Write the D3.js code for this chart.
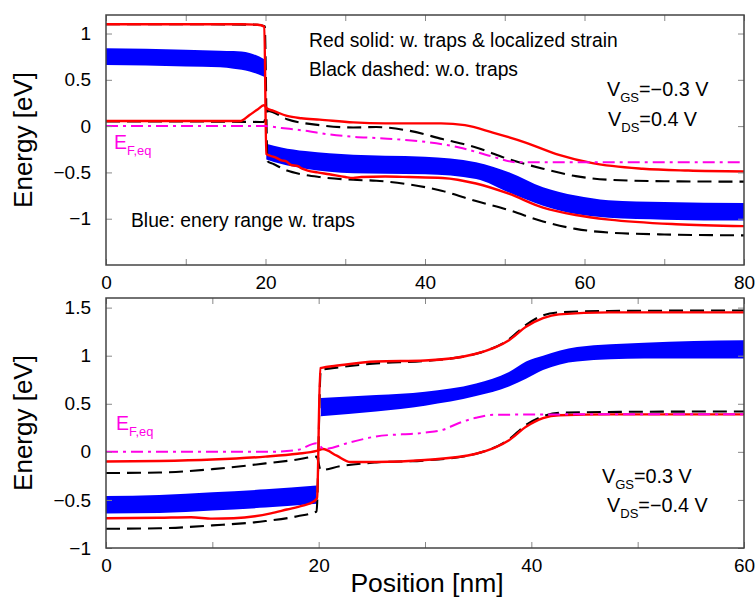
<!DOCTYPE html>
<html><head><meta charset="utf-8">
<script src="https://cdn.jsdelivr.net/npm/d3@7"></script>
<style>
body{margin:0;background:#fff}
text{font-family:"Liberation Sans",Arial,Helvetica,sans-serif;fill:#000}
</style>
</head><body>
<svg id="c" width="756" height="600"></svg>
<script>
// ---------------- DATA ----------------
// Top panel: VGS = -0.3 V, VDS = 0.4 V   (x in nm, energy in eV)
const topXTicks = [0,10,20,30,40,50,60,70,80];
const topXLabels = [0,20,40,60,80];
const topYTicks = [-1,-0.5,0,0.5,1];
// red solid (traps & localized strain)
const topRed1 = [[0,1.10],[10,1.10],[17,1.10],[19,1.095],[19.85,1.075],[20.1,-0.30],[20.6,-0.32],[21.3,-0.34],[22,-0.37],[22.6,-0.38],[23.2,-0.42],[24,-0.43],[24.6,-0.46],[25.3,-0.48],[26.5,-0.50],[28,-0.52],[30,-0.55],[31,-0.56],[32,-0.55],[35,-0.545],[38,-0.55],[42.2,-0.56],[46.4,-0.62],[50.5,-0.73],[54.8,-0.88],[58.9,-0.96],[63.1,-1.01],[71.5,-1.06],[80,-1.08]];
const topRed2 = [[0,0.055],[10,0.055],[16.8,0.055],[18,0.12],[19,0.18],[19.8,0.225],[20.2,0.19],[21,0.165],[22.7,0.11],[24.5,0.085],[26.8,0.07],[31,0.04],[35,0.03],[42,0.03],[45,0.01],[48.5,-0.07],[52.7,-0.18],[56.8,-0.31],[61,-0.40],[67.3,-0.46],[73,-0.48],[80,-0.49]];
// black dashed (without traps)
const topBlack1 = [[0,1.10],[10,1.10],[19,1.095],[19.9,1.08],[20.25,-0.38],[21,-0.41],[22.7,-0.48],[24.5,-0.52],[26.8,-0.55],[31,-0.58],[33.9,-0.59],[38,-0.63],[42.2,-0.70],[46.4,-0.81],[50.6,-0.91],[54.8,-1.03],[58.9,-1.11],[63.1,-1.15],[70,-1.17],[80,-1.18]];
const topBlack2 = [[0,0.05],[10,0.05],[19.8,0.045],[20.25,0.165],[22.7,0.075],[26.8,0.01],[31,-0.015],[33.9,-0.01],[38,-0.05],[42.2,-0.14],[46.4,-0.23],[50.6,-0.36],[54.8,-0.46],[58.9,-0.54],[63.1,-0.58],[70,-0.595],[80,-0.60]];
// magenta dash-dot (equilibrium Fermi level)
const topEF = [[0,0],[20,0],[22,-0.02],[25,-0.05],[28,-0.09],[31,-0.115],[34,-0.13],[40,-0.17],[44.3,-0.23],[48.5,-0.33],[51.5,-0.39],[80,-0.39]];
// blue band (energy range with traps): [x, low, high]
const topBandLeft = [[0,0.66,0.84],[5,0.655,0.835],[10,0.645,0.825],[14.3,0.635,0.815],[16,0.62,0.81],[18,0.59,0.79],[19.9,0.53,0.72]];
const topBandRight = [[20.1,-0.36,-0.19],[22,-0.41,-0.23],[25,-0.46,-0.27],[31,-0.51,-0.31],[35,-0.515,-0.32],[40,-0.52,-0.33],[46.4,-0.57,-0.39],[50.6,-0.72,-0.50],[54.8,-0.86,-0.66],[58.9,-0.95,-0.75],[63,-0.99,-0.80],[70,-1.01,-0.82],[80,-1.02,-0.83]];

// Bottom panel: VGS = 0.3 V, VDS = -0.4 V
const botXTicks = [0,10,20,30,40,50,60];
const botXLabels = [0,20,40,60];
const botYTicks = [-1,-0.5,0,0.5,1,1.5];
const botRed1 = [[0,-0.69],[5,-0.685],[8,-0.68],[10,-0.695],[12,-0.69],[14,-0.67],[15.5,-0.64],[17,-0.60],[18.5,-0.56],[19.5,-0.52],[19.85,-0.48],[20.15,0.87],[22,0.90],[25.4,0.94],[30,0.95],[34.8,1.02],[37.9,1.16],[39.5,1.30],[41.1,1.39],[42.6,1.43],[47.3,1.45],[60,1.45]];
const botRed2 = [[0,-0.10],[5,-0.095],[10,-0.08],[15,-0.05],[18,-0.02],[19.8,0.01],[20.4,0.03],[21.7,-0.04],[23,-0.105],[25.4,-0.105],[30,-0.085],[34.8,-0.02],[37.9,0.12],[39.5,0.26],[41.1,0.35],[42.6,0.38],[47.3,0.39],[60,0.39]];
const botBlack1 = [[0,-0.80],[5,-0.795],[10,-0.765],[15,-0.72],[18,-0.67],[19.8,-0.62],[20.2,0.85],[22,0.88],[25.4,0.92],[30,0.945],[34.8,1.02],[37.9,1.17],[39.5,1.32],[41.1,1.42],[42.6,1.45],[47.3,1.465],[60,1.47]];
const botBlack2 = [[0,-0.22],[5,-0.215],[10,-0.18],[15,-0.12],[18,-0.08],[19.8,-0.05],[20.2,-0.19],[22,-0.15],[25.4,-0.11],[30,-0.09],[34.8,-0.02],[37.9,0.13],[39.5,0.28],[41.1,0.37],[42.6,0.405],[47.3,0.415],[60,0.42]];
const botEF = [[0,0],[15,0],[18,0.02],[19.8,0.09],[20.5,0.03],[23,0.10],[25.4,0.16],[30,0.20],[31.7,0.23],[33.2,0.30],[34.8,0.355],[36.4,0.385],[45,0.39],[60,0.39]];
const botBandLeft = [[0,-0.64,-0.46],[5,-0.635,-0.45],[10,-0.61,-0.42],[15,-0.58,-0.39],[19.8,-0.54,-0.35]];
const botBandRight = [[20.2,0.37,0.56],[25.4,0.42,0.59],[30,0.48,0.625],[34.8,0.58,0.71],[37.9,0.68,0.83],[39.5,0.76,0.94],[41.1,0.85,1.00],[44.3,0.94,1.09],[50.6,0.97,1.135],[60,0.97,1.16]];

// ---------------- DRAW ----------------
const svg = d3.select("#c");
const fmt = d3.format("~g");
const BLUE = "#0000ff", RED = "#ff0000", MAG = "#ff00e6";

function panel(cfg){
  const x = d3.scaleLinear().domain(cfg.xDom).range([106,744]);
  const y = d3.scaleLinear().domain(cfg.yDom).range([cfg.y1, cfg.y0]);
  const g = svg.append("g");
  const cid = "clip"+cfg.id;
  g.append("clipPath").attr("id",cid).append("rect")
    .attr("x",106).attr("y",cfg.y0).attr("width",638).attr("height",cfg.y1-cfg.y0);
  const pg = g.append("g").attr("clip-path",`url(#${cid})`);

  const area = d3.area().x(d=>x(d[0])).y0(d=>y(d[1])).y1(d=>y(d[2])).curve(d3.curveMonotoneX);
  cfg.bands.forEach(b=>pg.append("path").attr("d",area(b)).attr("fill",BLUE));

  const line = d3.line().x(d=>x(d[0])).y(d=>y(d[1])).curve(d3.curveMonotoneX);
  cfg.black.forEach(s=>pg.append("path").attr("d",line(s)).attr("fill","none")
    .attr("stroke","#000").attr("stroke-width",2.1).attr("stroke-dasharray","14,7"));
  cfg.red.forEach(s=>pg.append("path").attr("d",line(s)).attr("fill","none")
    .attr("stroke",RED).attr("stroke-width",2.4));
  pg.append("path").attr("d",line(cfg.ef)).attr("fill","none")
    .attr("stroke",MAG).attr("stroke-width",2).attr("stroke-dasharray","12,5,3,5");

  const styleAxis = sel=>{
    sel.select(".domain").remove();
    sel.selectAll(".tick line").attr("stroke","#888").attr("stroke-width",1);
    sel.selectAll(".tick text").attr("font-size",19).attr("fill","#000")
      .style("font-family",'"Liberation Sans",Arial,sans-serif');
  };
  g.append("g").attr("transform",`translate(0,${cfg.y1})`)
    .call(d3.axisBottom(x).tickValues(cfg.xTicks).tickSize(-6).tickPadding(11)
      .tickFormat(d=>cfg.xLabels.includes(d)?fmt(d):""))
    .call(styleAxis);
  g.append("g").attr("transform",`translate(0,${cfg.y0})`)
    .call(d3.axisTop(x).tickValues(cfg.xTicks).tickSize(-6).tickFormat(""))
    .call(styleAxis);
  g.append("g").attr("transform",`translate(106,0)`)
    .call(d3.axisLeft(y).tickValues(cfg.yTicks).tickSize(-6).tickPadding(15).tickFormat(fmt))
    .call(styleAxis);
  g.append("g").attr("transform",`translate(744,0)`)
    .call(d3.axisRight(y).tickValues(cfg.yTicks).tickSize(-6).tickFormat(""))
    .call(styleAxis);

  g.append("rect").attr("x",106).attr("y",cfg.y0).attr("width",638).attr("height",cfg.y1-cfg.y0)
    .attr("fill","none").attr("stroke","#444").attr("stroke-width",1.5);

  g.append("text").attr("transform",`translate(32,${(cfg.y0+cfg.y1)/2}) rotate(-90)`)
    .attr("text-anchor","middle").attr("font-size",26).text("Energy [eV]");
  return {g,x,y};
}

const topPanel = panel({id:"t", xDom:[0,80], yDom:[-1.5,1.2], y0:15, y1:265,
  xTicks:topXTicks, xLabels:topXLabels, yTicks:topYTicks,
  bands:[topBandLeft, topBandRight], black:[topBlack1, topBlack2], red:[topRed1, topRed2], ef:topEF});
const botPanel = panel({id:"b", xDom:[0,60], yDom:[-1,1.6], y0:298, y1:548,
  xTicks:botXTicks, xLabels:botXLabels, yTicks:botYTicks,
  bands:[botBandLeft, botBandRight], black:[botBlack1, botBlack2], red:[botRed1, botRed2], ef:botEF});

function txt(x,y,s,size){ return svg.append("text").attr("x",x).attr("y",y).attr("font-size",size||19.3).text(s); }
function sub(x,y,main,subs,rest,size,col){
  const t = svg.append("text").attr("x",x).attr("y",y).attr("font-size",size);
  if(col) t.style("fill",col);
  t.append("tspan").text(main);
  t.append("tspan").attr("dy",6).attr("font-size",size*0.66).text(subs);
  if(rest) t.append("tspan").attr("dy",-6).text(rest);
  return t;
}
txt(309,47,"Red solid: w. traps & localized strain");
txt(309,76,"Black dashed: w.o. traps");
txt(131,227,"Blue: enery range w. traps");
sub(607,96,"V","GS","=\u22120.3 V",19.8);
sub(608,126,"V","DS","=0.4 V",19.8);
sub(114,149,"E","F,eq","",19.5,MAG);

sub(602,483,"V","GS","=0.3 V",19.8);
sub(607,512,"V","DS","=\u22120.4 V",19.8);
sub(116,430,"E","F,eq","",19.5,MAG);

svg.append("text").attr("x",427).attr("y",592).attr("text-anchor","middle")
  .attr("font-size",26.5).text("Position [nm]");
</script>
</body></html>
